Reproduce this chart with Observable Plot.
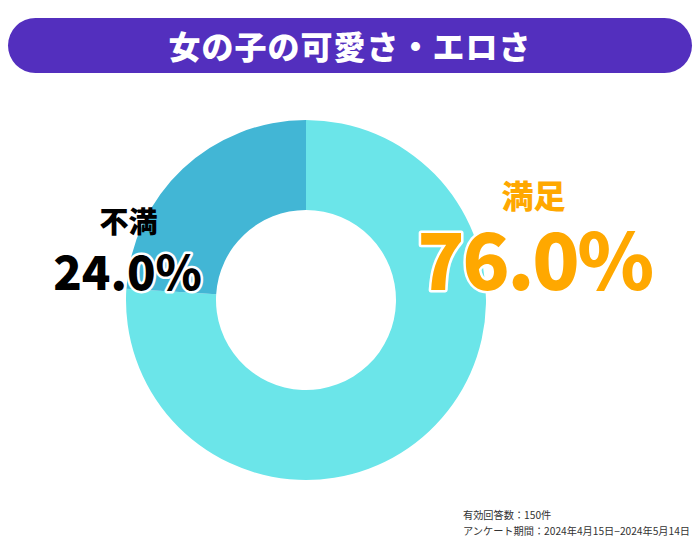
<!DOCTYPE html>
<html>
<head>
<meta charset="utf-8">
<script src="https://cdn.jsdelivr.net/npm/d3@7"></script>
<script src="https://cdn.jsdelivr.net/npm/@observablehq/plot@0.6"></script>
<style>
  html, body { margin: 0; padding: 0; background: #fff; }
  #wrap { position: relative; width: 700px; height: 550px; overflow: hidden; font-family: "Noto Sans CJK JP", "Noto Sans", sans-serif; }
  #title { position: absolute; left: 8px; top: 18px; width: 684px; height: 55px; border-radius: 28px; background: #532FBE;
           color: #fff; font-weight: 900; font-size: 32px; line-height: 55px; text-align: center; letter-spacing: 1px; }
  #chart { position: absolute; left: 0; top: 0; }
  #note { position: absolute; left: 463px; top: 507px; font-size: 10.2px; line-height: 16px; color: #333; }
</style>
</head>
<body>
<div id="wrap">
  <div id="chart"></div>
  <div id="title"></div>
  <div id="note"></div>
</div>
<script>
const title = "女の子の可愛さ・エロさ";
const categories = ["満足", "不満"];
const values = [76.0, 24.0];
const colors = ["#6BE5E9", "#42B6D5"];
const labelColors = ["#FFA800", "#000000"];
const notes = ["有効回答数：150件", "アンケート期間：2024年4月15日−2024年5月14日"];

document.getElementById("title").textContent = title;
document.getElementById("note").innerHTML = notes.map(n => `<div>${n}</div>`).join("");

const data = categories.map((c, i) => ({category: c, value: values[i], color: colors[i], labelColor: labelColors[i]}));

const cx = 306, cy = 300, outerR = 180, innerR = 90;

const pie = d3.pie().value(d => d.value).sort(null);
const arcs = pie(data);
const arcGen = d3.arc().innerRadius(innerR).outerRadius(outerR);

function donutMark(index, scales, values, dimensions, context) {
  const g = d3.create("svg:g").attr("transform", `translate(${cx},${cy})`);
  g.selectAll("path").data(arcs).join("path")
    .attr("d", arcGen)
    .attr("fill", d => d.data.color);
  return g.node();
}

const catLabels = [
  {text: data[0].category, x: 533, y: 197, size: 32, color: data[0].labelColor},
  {text: data[1].category, x: 128, y: 223, size: 29, color: data[1].labelColor}
];
const valLabels = [
  {text: data[0].value.toFixed(1) + "%", x: 534, y: 265, size: 78, spacing: -2.5, color: data[0].labelColor},
  {text: data[1].value.toFixed(1) + "%", x: 127, y: 274, size: 47, spacing: 0, color: data[1].labelColor}
];

const plot = Plot.plot({
  width: 700,
  height: 550,
  margin: 0,
  x: {type: "identity"},
  y: {type: "identity"},
  axis: null,
  style: {background: "transparent", fontFamily: "'Noto Sans CJK JP', sans-serif"},
  marks: [
    donutMark,
    Plot.text(catLabels, {x: "x", y: "y", text: "text", fill: "color", fontSize: "size", fontWeight: 900, textAnchor: "middle"}),
    Plot.text(valLabels, {x: "x", y: "y", text: "text", fill: "color", fontSize: "size", fontWeight: 900, textAnchor: "middle",
      stroke: "white", strokeWidth: 5, strokeLinejoin: "round"})
  ]
});
valLabels.forEach(l => {
  plot.querySelectorAll("text").forEach(t => {
    if (t.textContent === l.text) t.setAttribute("letter-spacing", l.spacing);
  });
});
document.getElementById("chart").appendChild(plot);
</script>
</body>
</html>
